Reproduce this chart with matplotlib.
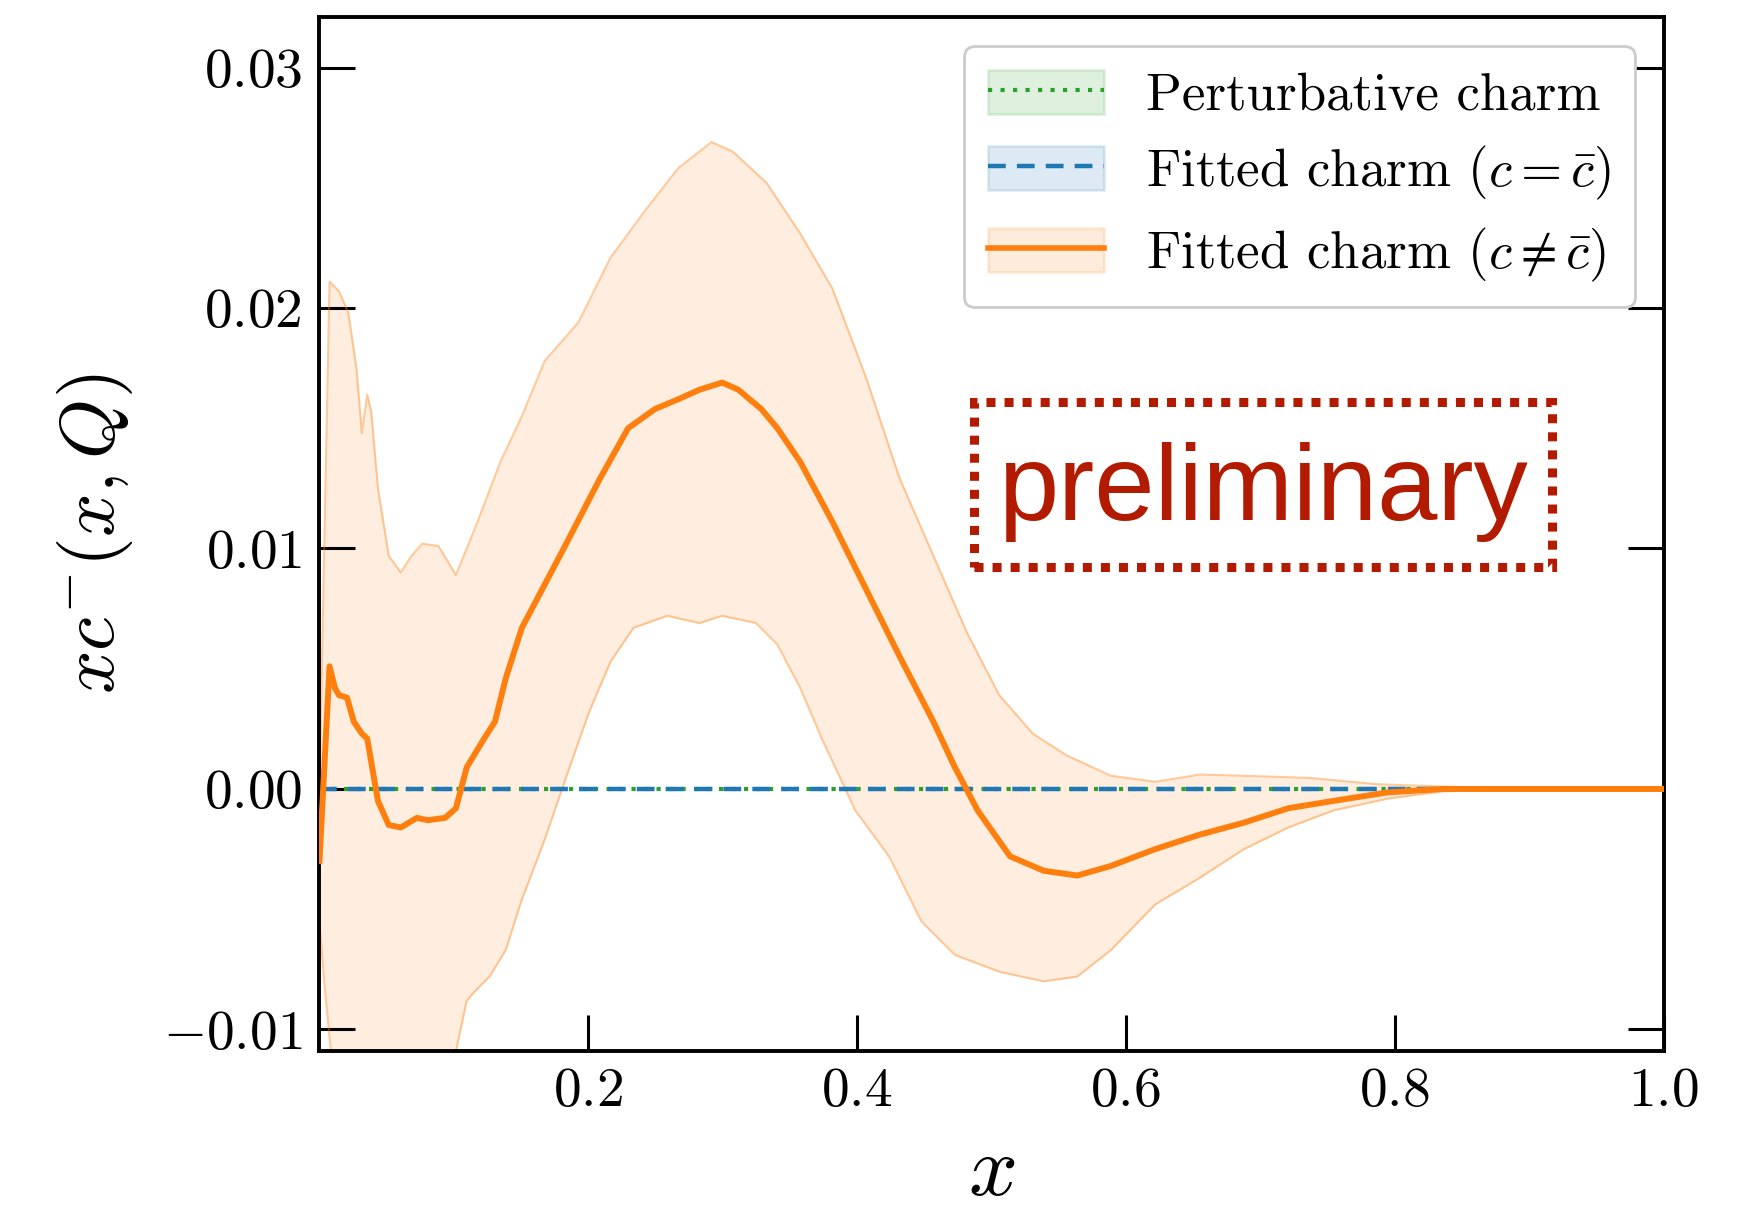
import numpy as np
import matplotlib
matplotlib.use('Agg')
import matplotlib.pyplot as plt
from matplotlib.patches import Rectangle, Patch
from matplotlib.lines import Line2D

plt.rcParams['font.family'] = 'serif'
plt.rcParams['font.serif'] = ['cmr10']
plt.rcParams['mathtext.fontset'] = 'cm'
plt.rcParams['axes.formatter.use_mathtext'] = True

# fitted charm (c != cbar), central value and band
x_cen = [0.0005, 0.008, 0.012, 0.015, 0.021, 0.026, 0.032, 0.036, 0.044, 0.052, 0.061, 0.073,
         0.081, 0.094, 0.102, 0.110, 0.123, 0.131, 0.139, 0.151, 0.168, 0.184, 0.209,
         0.230, 0.250, 0.267, 0.283, 0.300, 0.312, 0.329, 0.341, 0.358, 0.382, 0.407,
         0.432, 0.457, 0.473, 0.490, 0.514, 0.539, 0.564, 0.589, 0.622, 0.655, 0.688,
         0.721, 0.754, 0.795, 0.836, 0.9, 1.0]
y_cen = [-0.0030, 0.0051, 0.0042, 0.0039, 0.0038, 0.0028, 0.0023, 0.0021, -0.0005, -0.0015, -0.0016,
         -0.0012, -0.0013, -0.0012, -0.0008, 0.0009, 0.0021, 0.0028, 0.0046, 0.0067, 0.0085,
         0.0102, 0.0129, 0.0150, 0.0158, 0.0162, 0.0166, 0.0169, 0.0166, 0.0158, 0.0150,
         0.0136, 0.0111, 0.0083, 0.0055, 0.0028, 0.0009, -0.0009, -0.0028, -0.0034, -0.0036,
         -0.0032, -0.0025, -0.0019, -0.0014, -0.0008, -0.0005, -0.00014, 0.0, 0.0, 0.0]

x_up = [0.0005, 0.008, 0.015, 0.022, 0.028, 0.032, 0.036, 0.039, 0.044, 0.052, 0.061,
        0.069, 0.077, 0.089, 0.102, 0.118, 0.135, 0.151, 0.168, 0.193, 0.217, 0.242,
        0.267, 0.292, 0.308, 0.333, 0.358, 0.382, 0.407, 0.432, 0.457, 0.482, 0.506,
        0.531, 0.556, 0.589, 0.622, 0.655, 0.688, 0.737, 0.787, 0.836, 0.9, 1.0]
y_up = [0.0, 0.0211, 0.0207, 0.0198, 0.0175, 0.0148, 0.0164, 0.0157, 0.0125, 0.0097, 0.0090,
        0.0097, 0.0102, 0.0101, 0.0089, 0.0111, 0.0136, 0.0155, 0.0178, 0.0194, 0.0221,
        0.0240, 0.0258, 0.0269, 0.0265, 0.0252, 0.0231, 0.0208, 0.0171, 0.0129, 0.0097,
        0.0065, 0.0039, 0.0023, 0.0014, 0.00055, 0.0003, 0.0006, 0.00055, 0.00046,
        0.0002, 0.0001, 0.0, 0.0]

x_lo = [0.0005, 0.004, 0.010, 0.030, 0.060, 0.090, 0.102, 0.110, 0.118, 0.127, 0.139,
        0.151, 0.168, 0.184, 0.201, 0.217, 0.234, 0.259, 0.283, 0.300, 0.325, 0.341,
        0.358, 0.374, 0.399, 0.424, 0.448, 0.473, 0.506, 0.539, 0.564, 0.589, 0.622,
        0.655, 0.688, 0.721, 0.754, 0.795, 0.836, 0.9, 1.0]
y_lo = [-0.0055, -0.0080, -0.0115, -0.0160, -0.0160, -0.0130, -0.0109, -0.0088, -0.0083,
        -0.0078, -0.0067, -0.0046, -0.0021, 0.0005, 0.0032, 0.0053, 0.0067, 0.0072, 0.0069,
        0.0072, 0.0069, 0.0060, 0.0042, 0.0021, -0.0009, -0.0028, -0.0055, -0.0069,
        -0.0076, -0.0080, -0.0078, -0.0067, -0.0048, -0.0037, -0.0025, -0.0016, -0.0009,
        -0.0004, -0.0001, 0.0, 0.0]

# perturbative and symmetric fitted charm are zero everywhere
x_zero = [0.0005, 1.0]
y_zero = [0.0, 0.0]

y_ticks = [-0.01, 0.0, 0.01, 0.02, 0.03]
y_ticklabels = [r'$-0.01$', r'$0.00$', r'$0.01$', r'$0.02$', r'$0.03$']
x_ticks = [0.2, 0.4, 0.6, 0.8, 1.0]
x_ticklabels = [r'$0.2$', r'$0.4$', r'$0.6$', r'$0.8$', r'$1.0$']

c_green = '#2ca02c'
c_blue = '#1f77b4'
c_orange = '#ff7f0e'

fig = plt.figure(figsize=(17.42, 12.16), dpi=100)
ax = fig.add_axes([0.183, 0.136, 0.772, 0.850])

# common grid for the band
xg = np.array(sorted(set(x_up) | set(x_lo)))
up_g = np.interp(xg, x_up, y_up)
lo_g = np.interp(xg, x_lo, y_lo)

ax.fill_between(xg, lo_g, up_g, color=c_orange, alpha=0.13, lw=0)
ax.plot(x_up, y_up, color=c_orange, alpha=0.4, lw=1.5)
ax.plot(x_lo, y_lo, color=c_orange, alpha=0.4, lw=1.5)

ax.plot(x_zero, y_zero, color=c_green, ls=(0, (1, 2)), lw=3)
ax.plot(x_zero, y_zero, color=c_blue, ls=(0, (4, 2.5)), lw=3.2)
ax.plot(x_cen, y_cen, color=c_orange, lw=4.3, zorder=5)

ax.set_xlim(0.0, 1.0)
ax.set_ylim(-0.01088, 0.0321)
ax.set_xticks(x_ticks)
ax.set_xticklabels(x_ticklabels)
ax.set_yticks(y_ticks)
ax.set_yticklabels(y_ticklabels)
ax.tick_params(direction='in', length=26, width=2.2, labelsize=40, pad=12,
               left=True, right=True, top=False, bottom=True)
for s in ax.spines.values():
    s.set_linewidth(2.8)

ax.set_xlabel(r'$x$', fontsize=62, labelpad=13)
ax.set_ylabel(r'$xc^{-}(x,Q)$', fontsize=55, labelpad=20)

handles = [
    (Patch(facecolor=c_green, alpha=0.15, edgecolor=c_green, lw=2),
     Line2D([], [], color=c_green, ls=(0, (1, 2)), lw=3)),
    (Patch(facecolor=c_blue, alpha=0.15, edgecolor=c_blue, lw=2),
     Line2D([], [], color=c_blue, ls=(0, (4, 2.5)), lw=3.2)),
    (Patch(facecolor=c_orange, alpha=0.15, edgecolor=c_orange, lw=2),
     Line2D([], [], color=c_orange, lw=4)),
]
labels = ['Perturbative charm', r'Fitted charm $(c=\bar{c})$', r'Fitted charm $(c\neq\bar{c})$']
leg = ax.legend(handles, labels, loc='upper right', fontsize=38, handlelength=2.2,
                handleheight=0.9, handletextpad=0.8, labelspacing=0.45,
                borderaxespad=0.55, borderpad=0.45, fancybox=True, framealpha=1.0)
leg.get_frame().set_edgecolor('#cccccc')
leg.get_frame().set_linewidth(2)

# "preliminary" stamp
red = '#b31b00'
box = Rectangle((0.487, 0.468), 0.430, 0.160, transform=ax.transAxes, fill=False,
                edgecolor=red, lw=6.5, ls=(0, (1, 1)), zorder=6)
box.set_capstyle('butt')
ax.add_patch(box)
ax.text(0.702, 0.540, 'preliminary', transform=ax.transAxes, color=red,
        fontsize=78, family='Liberation Sans', ha='center', va='center', zorder=6)

fig.savefig('out.png', dpi=100)
